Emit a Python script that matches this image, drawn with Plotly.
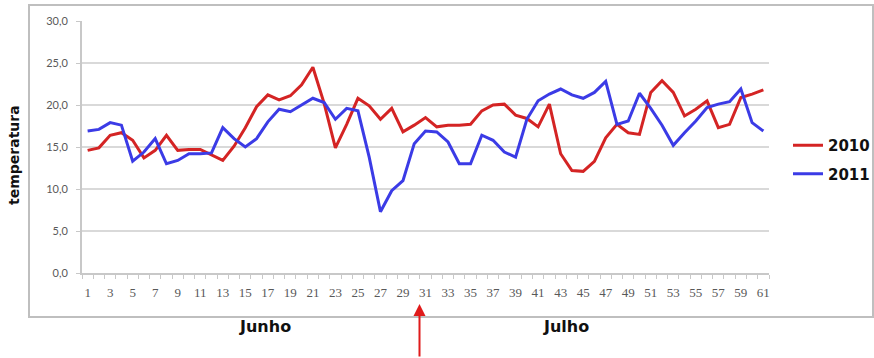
import plotly.graph_objects as go

# Daily temperatures, June (days 1-30) and July (days 31-61)
days = list(range(1, 62))
temp_2010 = [14.6, 14.9, 16.4, 16.7, 15.8, 13.7, 14.6, 16.4, 14.6, 14.7,
             14.7, 14.0, 13.4, 15.1, 17.3, 19.8, 21.2, 20.6, 21.1, 22.4,
             24.5, 20.2, 14.9, 17.7, 20.8, 19.9, 18.3, 19.6, 16.8, 17.6,
             18.5, 17.4, 17.6, 17.6, 17.7, 19.3, 20.0, 20.1, 18.8, 18.4,
             17.4, 20.1, 14.2, 12.2, 12.1, 13.3, 16.1, 17.7, 16.7, 16.5,
             21.5, 22.9, 21.5, 18.7, 19.5, 20.5, 17.3, 17.7, 20.9, 21.3,
             21.8]
temp_2011 = [16.9, 17.1, 17.9, 17.6, 13.3, 14.4, 16.0, 13.0, 13.4, 14.2,
             14.2, 14.3, 17.3, 16.0, 15.0, 16.0, 18.0, 19.5, 19.2, 20.0,
             20.8, 20.3, 18.3, 19.6, 19.3, 13.8, 7.3, 9.8, 11.0, 15.4,
             16.9, 16.8, 15.6, 13.0, 13.0, 16.4, 15.8, 14.4, 13.8, 18.3,
             20.5, 21.3, 21.9, 21.2, 20.8, 21.5, 22.8, 17.7, 18.1, 21.4,
             19.6, 17.6, 15.2, 16.7, 18.1, 19.7, 20.1, 20.4, 21.9, 17.9,
             16.9]
x_ticks = list(range(1, 62, 2))
y_ticks = [0, 5, 10, 15, 20, 25, 30]

RED = "#d42424"
BLUE = "#3b3be6"

fig = go.Figure()
fig.add_trace(go.Scatter(x=days, y=temp_2010, mode="lines", name="<b>2010</b>",
                         legendgroup="a", line=dict(color=RED, width=3)))
fig.add_trace(go.Scatter(x=days, y=temp_2011, mode="lines", name="<b>2011</b>",
                         legendgroup="b", line=dict(color=BLUE, width=3)))

L, R, T, B = 82, 105, 21, 85
W, H = 874, 358
pw, ph = W - L - R, H - T - B


def px_x(p):
    return (p - L) / pw


def px_y(p):
    return (H - B - p) / ph


fig.update_layout(
    width=W, height=H,
    margin=dict(l=L, r=R, t=T, b=B, autoexpand=False),
    paper_bgcolor="white", plot_bgcolor="white",
    separators=",.",
    showlegend=True,
    legend=dict(x=px_x(788), y=px_y(129), xanchor="left", yanchor="top",
                font=dict(family="DejaVu Sans", size=15, color="#111111"),
                itemwidth=30, traceorder="grouped", tracegroupgap=6,
                bgcolor="rgba(0,0,0,0)"),
    xaxis=dict(range=[0.5, 61.5], tickmode="array", tickvals=x_ticks,
               ticktext=[str(v) for v in x_ticks], ticks="",
               showgrid=False, zeroline=False,
               showline=True, linecolor="#c8c8c8", linewidth=2,
               tickfont=dict(family="Liberation Serif", size=13, color="#595959"),
               ticklabelstandoff=6,
               minor=dict(ticks="outside", tick0=0.5, dtick=1, ticklen=4,
                          tickcolor="#c8c8c8", tickwidth=1, showgrid=False)),
    yaxis=dict(range=[0, 30], tickvals=y_ticks, tickformat=".1f",
               showgrid=True, gridcolor="#d9d9d9", gridwidth=2,
               zeroline=False, showline=True, linecolor="#c8c8c8", linewidth=2,
               ticks="outside", ticklen=4, tickcolor="#c8c8c8",
               tickfont=dict(family="Lato", size=11, color="#595959"),
               ticklabelstandoff=6),
)

# Outer chart frame
fig.add_shape(type="rect", xref="paper", yref="paper",
              x0=px_x(29), x1=px_x(873), y0=px_y(317), y1=px_y(5),
              line=dict(color="#bfbfbf", width=2), layer="below")

bold = dict(family="DejaVu Sans", size=16, color="#111111")
centered = dict(xref="paper", yref="paper", xanchor="center", yanchor="middle",
                showarrow=False)
fig.add_annotation(text="<b>temperatura</b>", x=px_x(14), y=px_y(155),
                   textangle=-90,
                   font=dict(family="DejaVu Sans", size=14, color="#111111"),
                   **centered)
fig.add_annotation(text="<b>Junho</b>", x=px_x(265), y=px_y(326), font=bold,
                   **centered)
fig.add_annotation(text="<b>Julho</b>", x=px_x(566), y=px_y(326), font=bold,
                   **centered)

# Arrow marking the start of July
fig.add_annotation(text="", xref="paper", yref="paper",
                   x=px_x(419.5), y=px_y(304), ax=0, ay=56,
                   showarrow=True, arrowhead=2, arrowsize=1.2, arrowwidth=2,
                   arrowcolor="#e01b1b")

fig.write_html("out.html")
